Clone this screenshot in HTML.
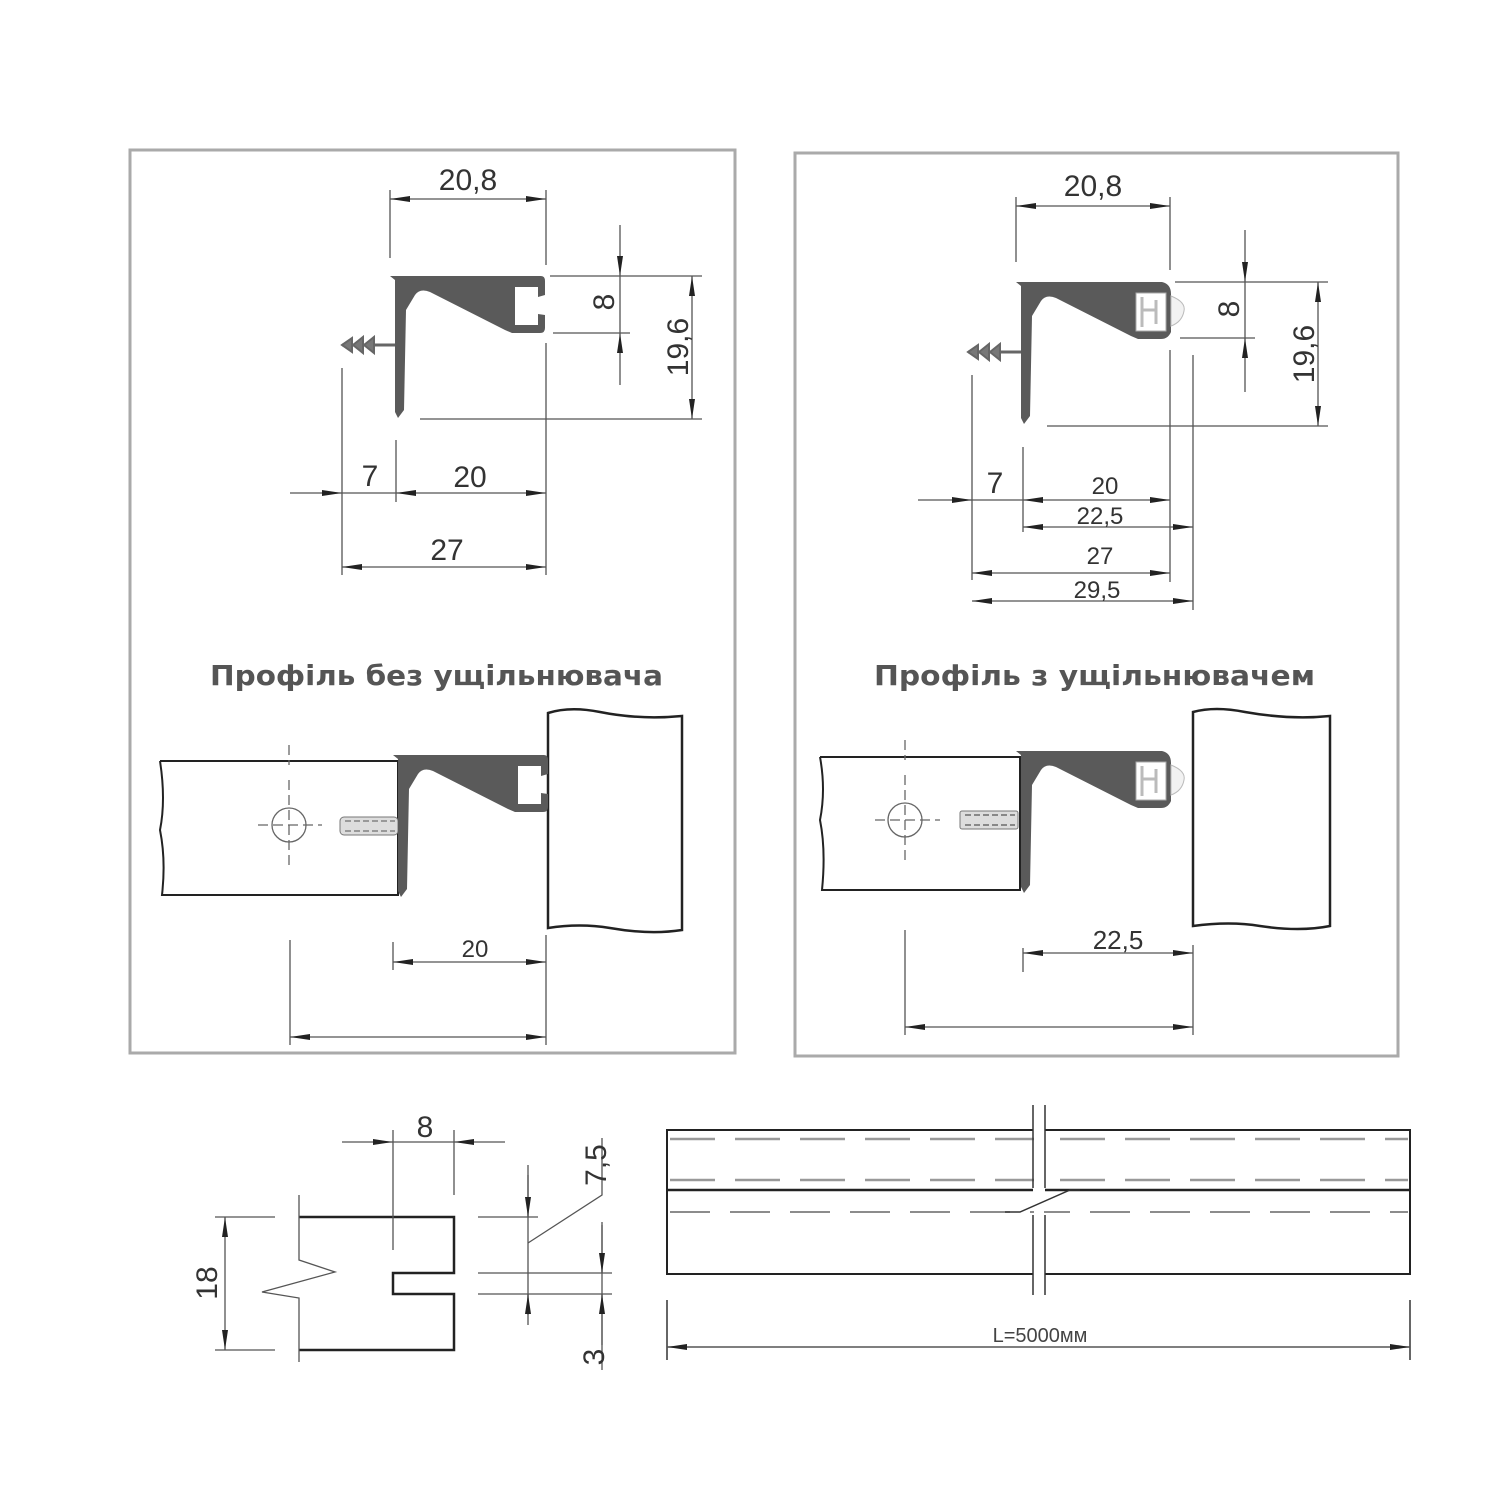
<!DOCTYPE html>
<html><head><meta charset="utf-8"><style>html,body{margin:0;padding:0;background:#fff}svg{display:block}</style></head>
<body>
<svg width="1500" height="1500" viewBox="0 0 1500 1500" xmlns="http://www.w3.org/2000/svg">
<defs>
<marker id="a" viewBox="0 0 20 10" refX="20" refY="5" markerWidth="20" markerHeight="10" markerUnits="userSpaceOnUse" orient="auto-start-reverse"><path d="M0,2 L20,5 L0,8 Z" fill="#222"/></marker>
<path id="prof" d="M0,0 L151,0 Q155,0 155,5 L155,19 L148,21 L148,11 L125,11 L125,49 L148,49 L148,38 L155,39 L155,52 Q155,57 150,57 L122,57 L115,54 L40,16 Q30,12 25,19 L16,34 L14,134 L8,142 L5,136 L5,4 Z"/>
<g id="prof2">
<path d="M0,0 L146,0 Q155,2 155,12 L155,50 Q152,57 145,57 L122,57 L115,54 L40,16 Q30,12 25,19 L16,34 L14,134 L8,142 L5,136 L5,4 Z" fill="#5a5a5a"/>
<rect x="120" y="11" width="30" height="38" fill="#fff" stroke="#aaa" stroke-width="1"/>
<path d="M126,15 V45 M126,28 H140 M140,18 V42" stroke="#bbb" stroke-width="3" fill="none"/>
<path d="M155,14 Q170,20 168,29 Q166,40 155,44 Z" fill="#f2f2f2" stroke="#bbb" stroke-width="1"/>
</g>
</defs>
<g fill="none" stroke="#aaa" stroke-width="3">
<rect x="130" y="150" width="605" height="903"/>
<rect x="795" y="153" width="603" height="903"/>
</g>
<g font-family="'DejaVu Sans','Liberation Sans',sans-serif" font-weight="bold" font-size="28" fill="#555">
<text x="210" y="685" textLength="453" lengthAdjust="spacingAndGlyphs">Профіль без ущільнювача</text>
<text x="874" y="685" textLength="441" lengthAdjust="spacingAndGlyphs">Профіль з ущільнювачем</text>
</g>

<!-- LEFT top profile -->
<use href="#prof" x="390" y="276" fill="#5a5a5a"/>
<g stroke="#666" stroke-width="2" fill="#777"><line x1="342" y1="345" x2="395" y2="345" stroke-width="3"/><path d="M342,345 L352,338 L352,352 Z M353,345 L363,337 L363,353 Z M364,345 L374,337 L374,353Z"/></g>
<g stroke="#555" stroke-width="1.3" fill="none">
<line x1="390" y1="190" x2="390" y2="258"/><line x1="546" y1="190" x2="546" y2="265"/>
<path d="M468,199 H390" marker-end="url(#a)"/><path d="M468,199 H546" marker-end="url(#a)"/>
<line x1="550" y1="276" x2="702" y2="276"/><line x1="553" y1="333" x2="630" y2="333"/>
<path d="M620,225 V276" marker-end="url(#a)"/><path d="M620,385 V333" marker-end="url(#a)"/><line x1="620" y1="276" x2="620" y2="333"/>
<path d="M692,347 V276" marker-end="url(#a)"/><path d="M692,347 V419" marker-end="url(#a)"/>
<line x1="420" y1="419" x2="702" y2="419"/>
<line x1="546" y1="343" x2="546" y2="575"/><line x1="342" y1="368" x2="342" y2="575"/><line x1="396" y1="440" x2="396" y2="502"/>
<path d="M290,493 H342" marker-end="url(#a)"/><line x1="342" y1="493" x2="396" y2="493"/>
<path d="M470,493 H396" marker-end="url(#a)"/><path d="M470,493 H546" marker-end="url(#a)"/>
<path d="M444,567 H342" marker-end="url(#a)"/><path d="M444,567 H546" marker-end="url(#a)"/>
</g>
<g font-family="'Liberation Sans',sans-serif" font-size="30" fill="#333" text-anchor="middle">
<text x="468" y="190">20,8</text>
<text x="370" y="486">7</text><text x="470" y="487">20</text><text x="447" y="560">27</text>
<text transform="translate(614,302) rotate(-90)">8</text>
<text transform="translate(688,347) rotate(-90)">19,6</text>
</g>

<!-- RIGHT top profile -->
<use href="#prof2" x="1016" y="282"/>
<g stroke="#666" stroke-width="2" fill="#777"><line x1="968" y1="352" x2="1021" y2="352" stroke-width="3"/><path d="M968,352 L978,345 L978,359 Z M979,352 L989,344 L989,360 Z M990,352 L1000,344 L1000,360Z"/></g>
<g stroke="#555" stroke-width="1.3" fill="none">
<line x1="1016" y1="197" x2="1016" y2="262"/><line x1="1170" y1="197" x2="1170" y2="270"/>
<path d="M1093,206 H1016" marker-end="url(#a)"/><path d="M1093,206 H1170" marker-end="url(#a)"/>
<line x1="1175" y1="282" x2="1328" y2="282"/><line x1="1180" y1="338" x2="1255" y2="338"/>
<path d="M1245,230 V282" marker-end="url(#a)"/><path d="M1245,392 V338" marker-end="url(#a)"/><line x1="1245" y1="282" x2="1245" y2="338"/>
<path d="M1318,355 V282" marker-end="url(#a)"/><path d="M1318,355 V426" marker-end="url(#a)"/>
<line x1="1047" y1="426" x2="1328" y2="426"/>
<line x1="1170" y1="350" x2="1170" y2="582"/><line x1="1193" y1="355" x2="1193" y2="610"/>
<line x1="972" y1="375" x2="972" y2="580"/><line x1="1023" y1="447" x2="1023" y2="532"/>
<path d="M918,500 H972" marker-end="url(#a)"/><line x1="972" y1="500" x2="1023" y2="500"/>
<path d="M1100,500 H1023" marker-end="url(#a)"/><path d="M1100,500 H1170" marker-end="url(#a)"/>
<path d="M1100,527 H1023" marker-end="url(#a)"/><path d="M1100,527 H1193" marker-end="url(#a)"/>
<path d="M1070,573 H972" marker-end="url(#a)"/><path d="M1070,573 H1170" marker-end="url(#a)"/>
<path d="M1080,601 H972" marker-end="url(#a)"/><path d="M1080,601 H1193" marker-end="url(#a)"/>
</g>
<g font-family="'Liberation Sans',sans-serif" fill="#333" text-anchor="middle">
<text x="1093" y="196" font-size="30">20,8</text>
<text x="995" y="493" font-size="30">7</text>
<text x="1105" y="494" font-size="24">20</text><text x="1100" y="524" font-size="24">22,5</text>
<text x="1100" y="564" font-size="24">27</text><text x="1097" y="598" font-size="24">29,5</text>
<text transform="translate(1239,309) rotate(-90)" font-size="30">8</text>
<text transform="translate(1314,354) rotate(-90)" font-size="30">19,6</text>
</g>

<!-- LEFT assembly -->
<g stroke="#222" stroke-width="2" fill="none">
<path d="M160,761 H398 V895 H162 Q166,860 160,830 Q166,800 160,761"/>
<path d="M548,713 Q570,706 600,712 Q640,720 682,716 V930 Q650,935 610,928 Q580,923 548,928 Z" stroke-width="2.5"/>
</g>
<g stroke="#666" stroke-width="1.3" fill="none">
<circle cx="289" cy="825" r="17"/><path d="M289,745 V765 M289,780 V865 M258,825 H322" stroke-dasharray="10,5"/>
</g>
<rect x="340" y="817" width="58" height="18" rx="4" fill="#ddd" stroke="#777"/>
<path d="M345,821 H395 M345,831 H395" stroke="#999" stroke-width="2" stroke-dasharray="6,3"/>
<use href="#prof" x="393" y="755" fill="#5a5a5a"/>
<g stroke="#555" stroke-width="1.3" fill="none">
<line x1="393" y1="942" x2="393" y2="970"/><line x1="546" y1="935" x2="546" y2="1045"/><line x1="290" y1="940" x2="290" y2="1045"/>
<path d="M470,962 H393" marker-end="url(#a)"/><path d="M470,962 H546" marker-end="url(#a)"/>
<path d="M420,1037 H290" marker-end="url(#a)"/><path d="M420,1037 H546" marker-end="url(#a)"/>
</g>
<text x="475" y="957" font-family="'Liberation Sans',sans-serif" font-size="24" fill="#333" text-anchor="middle">20</text>

<!-- RIGHT assembly -->
<g stroke="#222" stroke-width="2" fill="none">
<path d="M820,757 H1020 V890 H822 Q826,850 820,820 Q826,790 820,757"/>
<path d="M1193,712 Q1215,706 1245,712 Q1290,720 1330,716 V926 Q1300,932 1260,926 Q1230,921 1193,926 Z" stroke-width="2.5"/>
</g>
<g stroke="#666" stroke-width="1.3" fill="none">
<circle cx="905" cy="820" r="17"/><path d="M905,740 V760 M905,775 V865 M875,820 H940" stroke-dasharray="10,5"/>
</g>
<rect x="960" y="811" width="58" height="18" rx="2" fill="#ddd" stroke="#777"/>
<path d="M965,815 H1015 M965,825 H1015" stroke="#888" stroke-width="2" stroke-dasharray="6,3"/>
<use href="#prof2" x="1016" y="751"/>
<g stroke="#555" stroke-width="1.3" fill="none">
<line x1="1023" y1="948" x2="1023" y2="972"/><line x1="1193" y1="945" x2="1193" y2="1035"/><line x1="905" y1="930" x2="905" y2="1035"/>
<path d="M1110,953 H1023" marker-end="url(#a)"/><path d="M1110,953 H1193" marker-end="url(#a)"/>
<path d="M1050,1027 H905" marker-end="url(#a)"/><path d="M1050,1027 H1193" marker-end="url(#a)"/>
</g>
<text x="1118" y="949" font-family="'Liberation Sans',sans-serif" font-size="26" fill="#333" text-anchor="middle">22,5</text>

<!-- Bottom left detail -->
<g stroke="#222" stroke-width="2.5" fill="none">
<path d="M299,1217 H454 V1273 H393 V1294 H454 V1350 H299"/>
</g>
<g stroke="#555" stroke-width="1.3" fill="none">
<path d="M299,1195 V1260 L335,1272 L262,1292 L299,1298 V1362"/>
<line x1="393" y1="1130" x2="393" y2="1250"/><line x1="454" y1="1130" x2="454" y2="1195"/>
<path d="M342,1142 H393" marker-end="url(#a)"/><path d="M505,1142 H454" marker-end="url(#a)"/><line x1="393" y1="1142" x2="454" y2="1142"/>
<line x1="215" y1="1217" x2="275" y2="1217"/><line x1="215" y1="1350" x2="275" y2="1350"/>
<path d="M225,1283 V1217" marker-end="url(#a)"/><path d="M225,1283 V1350" marker-end="url(#a)"/>
<line x1="478" y1="1217" x2="538" y2="1217"/><line x1="478" y1="1273" x2="612" y2="1273"/><line x1="478" y1="1294" x2="612" y2="1294"/>
<line x1="528" y1="1165" x2="528" y2="1325"/>
<path d="M528,1175 V1217" marker-end="url(#a)"/><path d="M528,1315 V1294" marker-end="url(#a)"/>
<path d="M528,1243 L602,1195 V1138"/>
<line x1="602" y1="1222" x2="602" y2="1370"/>
<path d="M602,1225 V1273" marker-end="url(#a)"/><path d="M602,1345 V1294" marker-end="url(#a)"/>
</g>
<g font-family="'Liberation Sans',sans-serif" font-size="30" fill="#333" text-anchor="middle">
<text x="425" y="1137">8</text>
<text transform="translate(217,1283) rotate(-90)">18</text>
<text transform="translate(606,1165) rotate(-90)">7,5</text>
<text transform="translate(604,1357) rotate(-90)">3</text>
</g>

<!-- Bottom right length -->
<g stroke="#222" stroke-width="2" fill="none">
<path d="M1033,1130 H667 V1274 H1033 M1045,1130 H1410 V1274 H1045"/>
<path d="M667,1190 H1033 M1045,1190 H1410" stroke-width="2.5"/>
</g>
<g stroke="#999" stroke-width="2.5" fill="none" stroke-dasharray="45,20">
<path d="M670,1139 H1408 M670,1180 H1408"/>
<path d="M670,1212 H1408" stroke="#666" stroke-width="1.5" stroke-dasharray="40,20"/>
</g>
<rect x="1034" y="1100" width="10" height="200" fill="#fff"/>
<g stroke="#333" stroke-width="1.5" fill="none">
<path d="M1033,1105 V1188 M1045,1105 V1188 M1033,1215 V1295 M1045,1215 V1295"/>
<path d="M1005,1212 L1020,1212 L1070,1190 L1080,1190"/>
<line x1="667" y1="1300" x2="667" y2="1360"/><line x1="1410" y1="1300" x2="1410" y2="1360"/>
<path d="M1040,1347 H667" marker-end="url(#a)" stroke="#555"/><path d="M1040,1347 H1410" marker-end="url(#a)" stroke="#555"/>
</g>
<text x="1040" y="1342" font-family="'Liberation Sans',sans-serif" font-size="20" fill="#444" text-anchor="middle">L=5000мм</text>
</svg>
</body></html>
